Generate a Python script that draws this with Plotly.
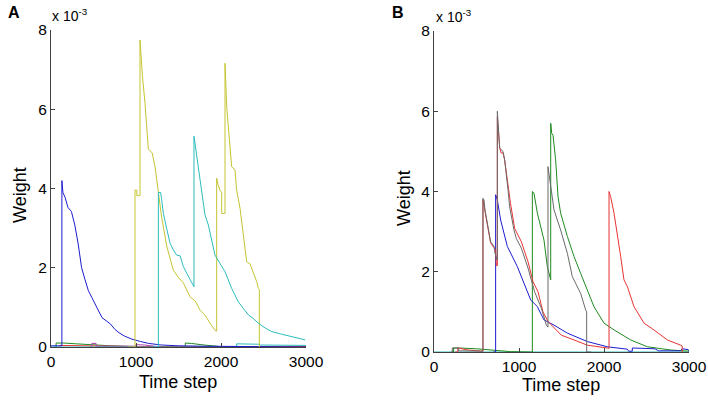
import plotly.graph_objects as go

# MATLAB-style default colour order (as rendered, slightly softened)
BLUE = "#1c1cd0"
GREEN = "#1f8a1f"
RED = "#e83232"
CYAN = "#2cbcbc"
MAGENTA = "#b040b0"
YELLOW = "#c4c430"
GRAY = "#6a6a6a"

# ---------------------------------------------------------------------------
# panel A data (weights in units of 1e-3)
# ---------------------------------------------------------------------------
A_BLUE_X = [0, 128, 128, 140, 165, 200, 240, 280, 320, 360, 400, 440, 480, 520, 560, 600,
            650, 700, 750, 800, 870, 950, 1050, 1150, 1300, 1500, 1800, 2200, 3000]
A_BLUE_Y = [0.03, 0.03, 4.2, 3.9, 3.78, 3.52, 3.42, 3.08, 2.6, 2.0, 1.7, 1.42, 1.25, 1.08, 0.95, 0.74,
            0.66, 0.58, 0.45, 0.36, 0.27, 0.2, 0.14, 0.09, 0.05, 0.03, 0.02, 0.01, 0.0]

A_YELLOW_X = [900, 988, 988, 1010, 1010, 1047, 1047, 1067, 1075, 1106, 1145, 1165, 1190, 1224,
              1263, 1300, 1361, 1439, 1500, 1557, 1635, 1700, 1753, 1820, 1871, 1930, 1949, 1949,
              1965, 1990, 2008, 2008, 2047, 2047, 2067, 2095, 2125, 2165, 2184, 2224, 2260, 2302,
              2341, 2420, 2439, 2451, 2451]
A_YELLOW_Y = [0.0, 0.0, 3.96, 3.96, 3.82, 3.82, 7.75, 6.9, 6.85, 6.15, 5.0, 4.95, 4.9, 4.55,
              3.96, 3.3, 2.55, 1.94, 1.75, 1.62, 1.27, 1.15, 0.93, 0.78, 0.6, 0.42, 0.4, 4.26,
              4.1, 3.95, 3.9, 3.37, 3.37, 7.16, 6.07, 5.4, 4.55, 4.47, 3.96, 3.5, 2.8, 2.15,
              2.1, 1.65, 1.48, 1.45, 0.0]

A_CYAN_X = [1200, 1263, 1263, 1290, 1300, 1322, 1360, 1400, 1440, 1478, 1520, 1557, 1600, 1635,
            1674, 1682, 1682, 1710, 1733, 1765, 1812, 1851, 1890, 1929, 1990, 2047, 2125, 2204,
            2260, 2322, 2380, 2439, 2520, 2596, 2700, 2831, 2920, 2990]
A_CYAN_Y = [0.0, 0.0, 3.9, 3.9, 3.75, 3.37, 3.0, 2.62, 2.45, 2.32, 2.3, 2.03, 1.85, 1.69,
            1.55, 1.52, 5.32, 4.9, 4.55, 3.96, 3.33, 3.08, 2.7, 2.32, 2.1, 1.9, 1.48, 1.14,
            0.98, 0.81, 0.72, 0.6, 0.48, 0.39, 0.33, 0.26, 0.22, 0.18]

A_CYAN_LOW_X = [0, 2184, 2184, 2450, 2460, 3000]
A_CYAN_LOW_Y = [0.0, 0.0, 0.08, 0.07, 0.05, 0.04]

A_GREEN_X = [50, 60, 60, 150, 300, 500, 700, 1000, 1580, 1580, 1650, 1800, 1950, 2000, 3000]
A_GREEN_Y = [0.0, 0.0, 0.1, 0.1, 0.08, 0.05, 0.03, 0.01, 0.01, 0.1, 0.09, 0.05, 0.02, 0.01, 0.01]

A_RED_X = [100, 500, 1000, 2200, 3000]
A_RED_Y = [0.04, 0.02, 0.01, 0.01, 0.01]

A_MAGENTA_X = [460, 480, 480, 530, 530, 1000, 1000, 1100, 1300]
A_MAGENTA_Y = [0.0, 0.0, 0.09, 0.09, 0.02, 0.02, 0.06, 0.05, 0.0]

# ---------------------------------------------------------------------------
# panel B data
# ---------------------------------------------------------------------------
B_GRAY_X = [200, 215, 215, 290, 290, 560, 576, 576, 588, 600, 647, 666, 706, 714, 740, 745, 745,
            760, 773, 812, 831, 871, 890, 941, 968, 1027, 1106, 1184, 1263, 1322, 1341, 1341,
            1380, 1412, 1490, 1569, 1627, 1725, 1784, 1796, 1796, 1850]
B_GRAY_Y = [0.0, 0.0, 0.1, 0.1, 0.03, 0.02, 0.02, 3.83, 3.79, 3.54, 3.04, 2.75, 2.63, 2.5, 2.3, 2.3, 6.0,
            5.5, 5.08, 5.0, 4.79, 4.04, 3.62, 3.04, 2.83, 2.59, 2.09, 1.5, 1.09, 0.67, 0.62, 4.62,
            3.96, 3.54, 3.04, 2.46, 1.88, 1.46, 1.05, 1.0, 0.0, 0.0]

B_RED_X = [250, 280, 280, 400, 576, 576, 600, 647, 666, 706, 725, 733, 745, 745, 760, 773, 790,
           812, 831, 871, 900, 949, 1027, 1106, 1165, 1224, 1282, 1341, 1420, 1498, 1647, 1804,
           2039, 2059, 2059, 2078, 2118, 2157, 2196, 2235, 2275, 2353, 2471, 2588, 2745, 2902,
           2920, 2920]
B_RED_Y = [0.0, 0.0, 0.1, 0.05, 0.02, 3.8, 3.5, 3.0, 2.72, 2.6, 2.55, 2.15, 2.15, 5.85, 5.5, 5.09, 4.96,
           4.96, 4.79, 4.1, 3.7, 3.08, 2.75, 2.25, 1.75, 1.5, 1.0, 0.76, 0.6, 0.42, 0.3, 0.17,
           0.1, 0.09, 4.0, 3.87, 3.46, 2.96, 2.38, 1.8, 1.63, 1.13, 0.72, 0.55, 0.3, 0.17,
           0.15, 0.0]

B_BLUE_X = [700, 725, 725, 745, 784, 863, 980, 1059, 1137, 1216, 1294, 1412, 1569, 1804, 2039,
            2275, 2290, 2333, 2333, 2600, 2640, 2900, 2920, 2990, 3000]
B_BLUE_Y = [0.0, 0.0, 3.92, 3.79, 3.29, 2.63, 2.13, 1.71, 1.3, 1.13, 0.8, 0.67, 0.47, 0.26, 0.13,
            0.07, 0.02, 0.02, 0.1, 0.08, 0.03, 0.03, 0.08, 0.06, 0.02]

B_GREEN_X = [210, 230, 230, 300, 500, 700, 900, 1140, 1157, 1157, 1176, 1216, 1294, 1333, 1373,
             1373, 1385, 1400, 1431, 1459, 1490, 1569, 1647, 1725, 1804, 1882, 2000, 2118, 2314,
             2510, 2784, 3000]
B_GREEN_Y = [0.0, 0.0, 0.1, 0.1, 0.08, 0.04, 0.01, 0.0, 0.0, 4.0, 3.96, 3.46, 2.79, 2.13, 1.8,
             5.7, 5.45, 5.4, 4.79, 3.87, 3.46, 2.88, 2.38, 1.96, 1.55, 1.13, 0.72, 0.55, 0.3,
             0.13, 0.05, 0.02]

B_CYAN_X = [0, 3000]
B_CYAN_Y = [0.0, 0.0]

X_TICKS = [0, 1000, 2000, 3000]
Y_TICKS = [0, 2, 4, 6, 8]

FONT = "Arial, Liberation Sans, sans-serif"

panel_a = [
    (A_GREEN_X, A_GREEN_Y, GREEN), (A_RED_X, A_RED_Y, RED), (A_MAGENTA_X, A_MAGENTA_Y, MAGENTA),
    (A_CYAN_LOW_X, A_CYAN_LOW_Y, CYAN), (A_BLUE_X, A_BLUE_Y, BLUE),
    (A_YELLOW_X, A_YELLOW_Y, YELLOW), (A_CYAN_X, A_CYAN_Y, CYAN),
]
panel_b = [
    (B_CYAN_X, B_CYAN_Y, CYAN), (B_GREEN_X, B_GREEN_Y, GREEN), (B_BLUE_X, B_BLUE_Y, BLUE),
    (B_RED_X, B_RED_Y, RED), (B_GRAY_X, B_GRAY_Y, GRAY),
]

fig = go.Figure()
for xs, ys, c in panel_a:
    fig.add_trace(go.Scatter(x=xs, y=ys, mode="lines", line=dict(color=c, width=1),
                             xaxis="x", yaxis="y", showlegend=False))
for xs, ys, c in panel_b:
    fig.add_trace(go.Scatter(x=xs, y=ys, mode="lines", line=dict(color=c, width=1),
                             xaxis="x2", yaxis="y2", showlegend=False))

# the page body margin is removed below, so pixel positions map straight to the figure
W, H = 708, 400


def fx(p):
    return p / W


def fy(p):
    return 1 - p / H


ax_common = dict(showgrid=False, zeroline=False, showline=True, linecolor="#404040", linewidth=1,
                 ticks="inside", ticklen=4, tickcolor="#404040",
                 tickfont=dict(family=FONT, size=15.5, color="black"))

fig.update_layout(
    width=W, height=H, margin=dict(l=0, r=0, t=0, b=0, autoexpand=False),
    paper_bgcolor="white", plot_bgcolor="white",
    xaxis=dict(domain=[fx(51), fx(306)], range=[0, 3000], tickvals=X_TICKS, anchor="y", **ax_common),
    yaxis=dict(domain=[fy(347), fy(30)], range=[0, 8], tickvals=Y_TICKS, anchor="x", **ax_common),
    xaxis2=dict(domain=[fx(434), fx(689)], range=[0, 3000], tickvals=X_TICKS, anchor="y2", **ax_common),
    yaxis2=dict(domain=[fy(352), fy(31)], range=[0, 8], tickvals=Y_TICKS, anchor="x2", **ax_common),
)


def px_ann(text, x, y, size, xanchor="center", **kw):
    fig.add_annotation(text=text, x=fx(x), y=fy(y), xref="paper", yref="paper",
                       xanchor=xanchor, yanchor="middle", showarrow=False,
                       font=dict(family=FONT, size=size, color="black"), **kw)


px_ann("<b>A</b>", 14, 13, 16)
px_ann("<b>B</b>", 398, 12, 16)
px_ann("x 10<sup>-3</sup>", 50, 15, 14, xanchor="left")
px_ann("x 10<sup>-3</sup>", 434, 16, 14, xanchor="left")
px_ann("Weight", 20, 195, 18, textangle=-90)
px_ann("Weight", 404, 198, 18, textangle=-90)
px_ann("Time step", 178, 382, 18)
px_ann("Time step", 561, 385, 18)

fig.write_html("out.html", config={"displayModeBar": False},
               post_script="document.body.style.margin='0';document.body.style.overflow='hidden';")
